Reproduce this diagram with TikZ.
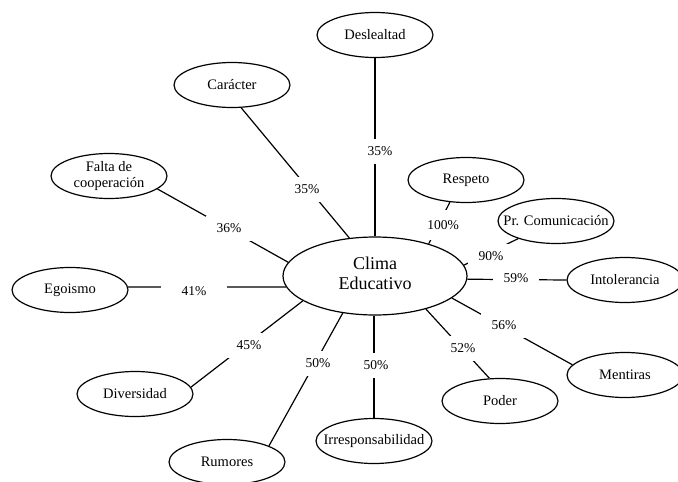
\documentclass[tikz,border=0pt]{standalone}
\usepackage{fontspec}
\setmainfont{Liberation Serif}
\usetikzlibrary{shapes.geometric}
\begin{document}
\begin{tikzpicture}[x=1pt,y=-1pt,
  ell/.style={ellipse,draw,line width=1.2pt,minimum width=116pt,minimum height=45pt,inner sep=0pt},
  etext/.style={font=\fontsize{14.5}{16.5}\selectfont,align=center,inner sep=0pt},
  ctext/.style={font=\fontsize{18}{20}\selectfont,align=center,inner sep=0pt,yshift=3pt},
  conn/.style={line width=1.2pt},
  pct/.style={fill=white,minimum width=46pt,minimum height=25pt,inner sep=0pt,font=\fontsize{13.5}{15}\selectfont}]
\useasboundingbox (0,0) rectangle (678,482);
\clip (0,0) rectangle (678,482);

% central node
\node[ellipse,draw,line width=1.2pt,minimum width=184pt,minimum height=78pt,inner sep=0pt,
  label={[ctext]center:Clima\\Educativo}] (c) at (375,276) {};

% outer nodes
\node[ell,label={[etext]center:Deslealtad}] (d) at (375,35) {};
\node[ell,label={[etext]center:Carácter}] (ca) at (232,85) {};
\node[ell,label={[etext]center:Falta de\\cooperación}] (f) at (109,176) {};
\node[ell,label={[etext]center:Egoismo}] (e) at (70,290) {};
\node[ell,label={[etext]center:Diversidad}] (dv) at (135,394) {};
\node[ell,label={[etext]center:Rumores}] (r) at (227,462) {};
\node[ell,label={[etext]center:Irresponsabilidad}] (ir) at (374,441) {};
\node[ell,label={[etext]center:Poder}] (p) at (500,401) {};
\node[ell,label={[etext]center:Mentiras}] (m) at (625,375) {};
\node[ell,label={[etext]center:Intolerancia}] (i) at (625,280) {};
\node[ell,label={[etext]center:Pr. Comunicación}] (pc) at (556,221) {};
\node[ell,label={[etext]center:Respeto}] (rs) at (466,180) {};

% connectors
\draw[conn] (d.south) -- (c.north);
\draw[conn] (ca.292) -- (c.124);
\draw[conn] (f.345) -- (c.171);
\draw[conn] (e.3) -- (c.187);
\draw[conn] (dv.7) -- (c.199);
\draw[conn] (r.21) -- (c.229);
\draw[conn] (ir.north) -- (ir.north |- c.south);
\draw[conn] (p.115) -- (c.327);
\draw[conn] (m.169) -- (c.344);
\draw[conn] (i.west) -- (c.358);
\draw[conn] (pc.205) -- (c.7);
\draw[conn] (rs.234) -- (c.31);

% percentage labels
\node[pct] (l1) at (380,151) {35\%};
\node[pct] (l2) at (307,189) {35\%};
\node[pct] (l3) at (229,228) {36\%};
\node[pct,minimum width=66pt] (l4) at (194,291) {41\%};
\node[pct] (l5) at (249,345) {45\%};
\node[pct] (l6) at (318,363) {50\%};
\node[pct] (l7) at (376,365) {50\%};
\node[pct] (l8) at (463,348) {52\%};
\node[pct] (l9) at (504,325) {56\%};
\node[pct] (l10) at (516,278) {59\%};
\node[pct] (l11) at (491,256) {90\%};
\node[pct,minimum height=30pt] (l12) at (443,225) {100\%};
\end{tikzpicture}
\end{document}
